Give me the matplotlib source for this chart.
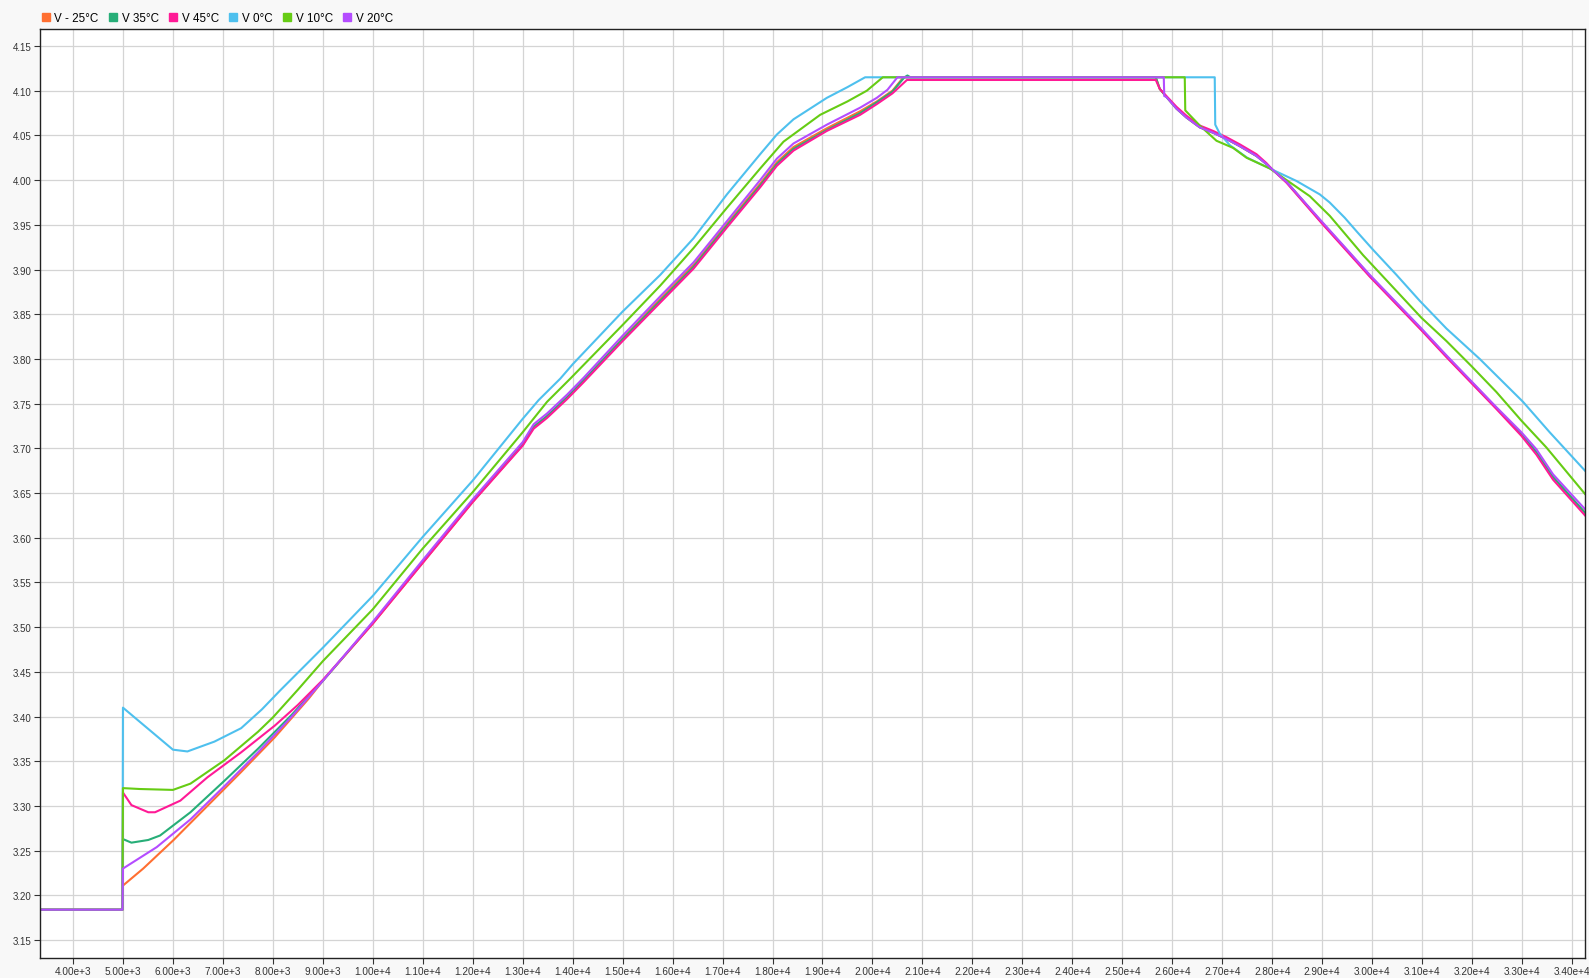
import matplotlib
matplotlib.use("Agg")
import matplotlib.pyplot as plt
from matplotlib.ticker import FixedLocator, FuncFormatter
from matplotlib.lines import Line2D

plt.rcParams['font.family'] = ['Liberation Sans', 'DejaVu Sans']

names = ["V - 25°C", "V 35°C", "V 45°C", "V 0°C", "V 10°C", "V 20°C"]
colors = ["#ff6f31", "#27ae78", "#ff1a96", "#4ec0ee", "#66cc14", "#b44cff"]

# V - 25°C
x_m25 = [3340, 4990, 5000, 5405, 6014, 6689, 7365, 8041, 8716, 9000, 10000, 11000, 12000, 13000,
         13220, 13487, 13887, 14220, 15000, 15753, 16420, 17087, 17753, 18087, 18420, 19087, 19753,
         20087, 20400, 20620, 25670, 25750, 25884, 26084, 26284, 26551, 26818, 27085, 27351, 27685,
         27885, 28000, 28287, 28987, 29487, 29953, 30487, 30987, 31487, 31987, 32487, 32987, 33287,
         33620, 34260]
v_m25 = [3.184, 3.184, 3.211, 3.230, 3.262, 3.300, 3.338, 3.377, 3.420, 3.440, 3.504, 3.572, 3.640, 3.704,
         3.724, 3.736, 3.757, 3.776, 3.823, 3.867, 3.905, 3.951, 3.996, 4.020, 4.037, 4.058, 4.077,
         4.088, 4.100, 4.115, 4.115, 4.102, 4.093, 4.080, 4.070, 4.059, 4.053, 4.046, 4.038, 4.027,
         4.018, 4.012, 3.998, 3.953, 3.922, 3.893, 3.862, 3.833, 3.803, 3.774, 3.745, 3.716, 3.696,
         3.668, 3.628]

# V 35°C
x_35 = [3340, 4990, 5000, 5170, 5507, 5743, 6351, 7027, 7703, 8378, 9000, 10000, 11000, 12000, 13000,
        13220, 13487, 13887, 14220, 15000, 15753, 16420, 17087, 17753, 18087, 18420, 19087, 19753,
        20087, 20400, 20640, 20700, 20760, 25670, 25750, 25884, 26084, 26284, 26551, 26818, 27085,
        27351, 27685, 27885, 28000, 28287, 28987, 29487, 29953, 30487, 30987, 31487, 31987, 32487,
        32987, 33287, 33620, 34260]
v_35 = [3.184, 3.184, 3.263, 3.259, 3.262, 3.267, 3.293, 3.328, 3.364, 3.402, 3.440, 3.505, 3.573, 3.641,
        3.704, 3.724, 3.736, 3.757, 3.776, 3.822, 3.865, 3.903, 3.949, 3.994, 4.018, 4.035, 4.056,
        4.075, 4.087, 4.099, 4.115, 4.117, 4.115, 4.115, 4.102, 4.093, 4.080, 4.070, 4.059, 4.053,
        4.046, 4.038, 4.027, 4.018, 4.012, 3.998, 3.953, 3.922, 3.893, 3.862, 3.833, 3.803, 3.774,
        3.745, 3.716, 3.696, 3.668, 3.628]

# V 45°C
x_45 = [3340, 4990, 5000, 5170, 5507, 5642, 6149, 6689, 7365, 8041, 8500, 9000, 10000, 11000, 12000,
        13000, 13220, 13487, 13887, 14220, 15000, 15753, 16420, 17087, 17753, 18087, 18420, 19087,
        19753, 20087, 20400, 20690, 25670, 25750, 25884, 26084, 26284, 26551, 26818, 27085, 27351,
        27685, 27885, 28000, 28287, 28987, 29487, 29953, 30487, 30987, 31487, 31987, 32487, 32987,
        33287, 33620, 34260]
v_45 = [3.184, 3.184, 3.315, 3.301, 3.293, 3.293, 3.306, 3.332, 3.360, 3.390, 3.413, 3.441, 3.504, 3.572,
        3.640, 3.703, 3.722, 3.734, 3.755, 3.774, 3.820, 3.863, 3.901, 3.947, 3.992, 4.016, 4.033,
        4.055, 4.073, 4.085, 4.097, 4.112, 4.112, 4.102, 4.094, 4.082, 4.072, 4.061, 4.055, 4.048,
        4.040, 4.029, 4.019, 4.012, 3.997, 3.952, 3.921, 3.892, 3.861, 3.832, 3.802, 3.773, 3.744,
        3.714, 3.693, 3.665, 3.625]

# V 0°C
x_0 = [3340, 4990, 5000, 6000, 6290, 6830, 7365, 7780, 8142, 9000, 10000, 11000, 12000, 13000, 13320,
       13753, 14000, 15000, 15753, 16420, 17087, 17753, 18087, 18420, 19087, 19500, 19853, 26850,
       26860, 26950, 27153, 27500, 27953, 28487, 28953, 29150, 29450, 29700, 30020, 30487, 30953,
       31487, 32153, 33020, 33553, 34260]
v_0 = [3.184, 3.184, 3.410, 3.363, 3.361, 3.372, 3.387, 3.408, 3.429, 3.477, 3.535, 3.601, 3.664, 3.733,
       3.754, 3.778, 3.794, 3.853, 3.894, 3.935, 3.984, 4.029, 4.051, 4.068, 4.092, 4.104, 4.115, 4.115,
       4.062, 4.052, 4.039, 4.025, 4.013, 3.999, 3.984, 3.975, 3.958, 3.942, 3.922, 3.894, 3.865, 3.834,
       3.800, 3.752, 3.718, 3.675]

# V 10°C
x_10 = [3340, 4990, 5000, 5338, 6000, 6351, 7027, 7703, 8000, 8500, 9000, 10000, 11000, 12000, 13000,
        13487, 13953, 15000, 15753, 16420, 17087, 17753, 18220, 18953, 19500, 19887, 20207, 26250,
        26260, 26551, 26885, 27218, 27487, 27953, 28753, 29153, 29820, 30487, 30987, 31487, 31987,
        32487, 32987, 33487, 34260]
v_10 = [3.184, 3.184, 3.320, 3.319, 3.318, 3.325, 3.351, 3.383, 3.399, 3.430, 3.462, 3.520, 3.588, 3.651,
        3.718, 3.752, 3.778, 3.838, 3.882, 3.924, 3.969, 4.013, 4.043, 4.073, 4.088, 4.100, 4.115, 4.115,
        4.078, 4.061, 4.044, 4.036, 4.025, 4.013, 3.982, 3.960, 3.916, 3.876, 3.846, 3.820, 3.792,
        3.763, 3.731, 3.701, 3.649]

# V 20°C
x_20 = [3340, 4990, 5000, 5676, 6351, 7027, 7703, 8378, 9000, 10000, 11000, 12000, 13000, 13220, 13487,
        13887, 14220, 15000, 15753, 16420, 17087, 17753, 18087, 18420, 19087, 19753, 20087, 20300,
        20500, 25830, 25840, 25884, 26084, 26284, 26551, 26818, 27085, 27351, 27685, 27885, 28000,
        28287, 28987, 29487, 29953, 30487, 30987, 31487, 31987, 32487, 32987, 33287, 33620, 34260]
v_20 = [3.184, 3.184, 3.230, 3.254, 3.285, 3.322, 3.360, 3.400, 3.440, 3.506, 3.575, 3.643, 3.707, 3.727,
        3.739, 3.760, 3.779, 3.826, 3.870, 3.908, 3.954, 4.000, 4.024, 4.041, 4.062, 4.081, 4.092, 4.101,
        4.115, 4.115, 4.094, 4.093, 4.080, 4.070, 4.059, 4.053, 4.046, 4.038, 4.027, 4.018, 4.012,
        3.998, 3.954, 3.923, 3.894, 3.863, 3.834, 3.804, 3.775, 3.746, 3.718, 3.699, 3.671, 3.632]

series_x = [x_m25, x_35, x_45, x_0, x_10, x_20]
series_v = [v_m25, v_35, v_45, v_0, v_10, v_20]

x_ticks = list(range(4000, 34001, 1000))
y_ticks = [3.15 + 0.05 * i for i in range(21)]

fig = plt.figure(figsize=(15.89, 9.79), dpi=100, facecolor="#f8f8f8")
ax = fig.add_axes([40 / 1589, 1 - 959 / 979, (1585 - 40) / 1589, (959 - 30) / 979])
ax.set_facecolor("white")

for xs, vs, c, n in zip(series_x, series_v, colors, names):
    ax.plot(xs, vs, color=c, lw=1.5, label=n)

ax.set_xlim(3340, 34260)
ax.set_ylim(3.130, 4.169)


def xfmt(v, pos):
    s = f"{v:.2e}"
    m, e = s.split("e")
    return f"{m}e+{int(e)}"


ax.xaxis.set_major_locator(FixedLocator(x_ticks))
ax.xaxis.set_major_formatter(FuncFormatter(xfmt))
ax.yaxis.set_major_locator(FixedLocator(y_ticks))
ax.yaxis.set_major_formatter(FuncFormatter(lambda v, p: f"{v:.2f}"))
ax.tick_params(axis="x", labelsize=7.2, colors="#333333", length=4, width=0.8, pad=2)
ax.tick_params(axis="y", labelsize=7.0, colors="#333333", length=4, width=0.8, pad=2)
ax.grid(True, color="#d4d4d4", lw=0.9)
ax.set_axisbelow(True)
for s in ax.spines.values():
    s.set_color("#222222")
    s.set_linewidth(1.0)

handles = [Line2D([], [], marker="s", ls="none", color=c, markersize=6) for c in colors]
fig.legend(handles, names, loc="center left", bbox_to_anchor=(41 / 1589, 1 - 19 / 979),
           ncol=6, frameon=False, fontsize=8.35, handlelength=0.8, handletextpad=0.35,
           columnspacing=0.84, borderaxespad=0, borderpad=0)

fig.savefig("out.png", dpi=100, facecolor=fig.get_facecolor())
